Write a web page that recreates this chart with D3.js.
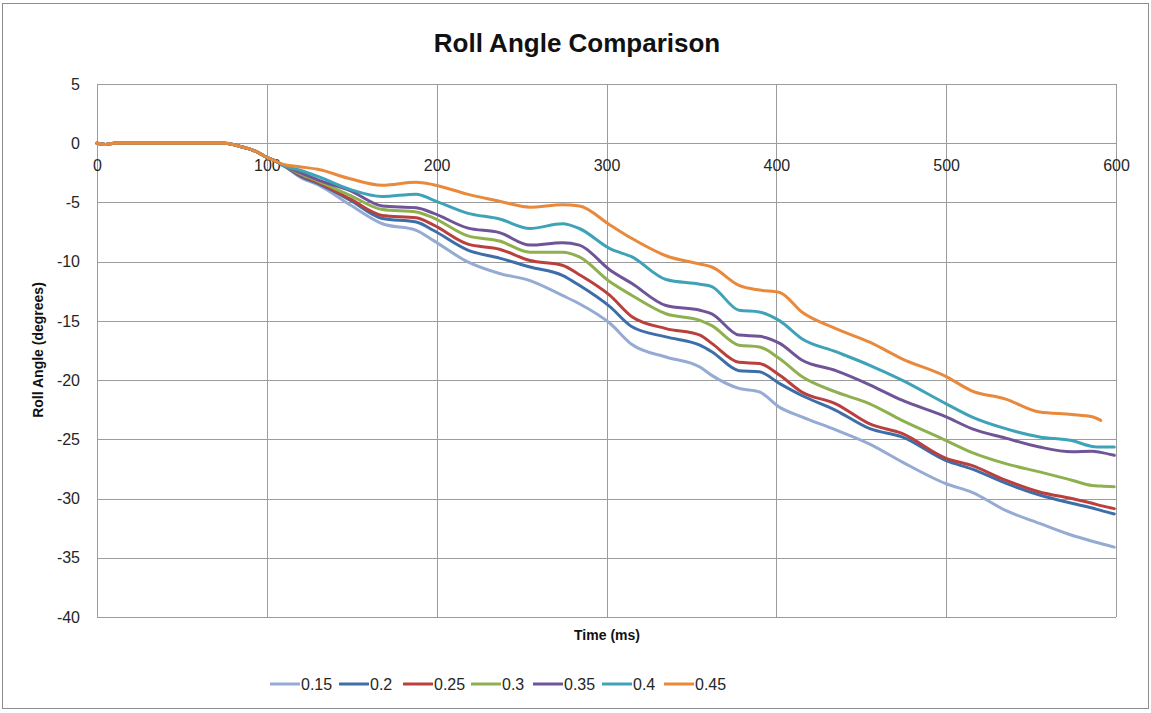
<!DOCTYPE html>
<html><head><meta charset="utf-8">
<script src="https://cdn.jsdelivr.net/npm/d3@7"></script>
<style>body{margin:0;background:#fff}</style>
</head><body><svg id="c" width="1151" height="713"></svg>
<script>
const title = "Roll Angle Comparison";
const xTitle = "Time (ms)";
const yTitle = "Roll Angle (degrees)";
const xTicks = [0,100,200,300,400,500,600];
const yTicks = [5,0,-5,-10,-15,-20,-25,-30,-35,-40];
const seriesNames = ["0.15","0.2","0.25","0.3","0.35","0.4","0.45"];
const colors = ["#95abd3","#3d6eaa","#b9403d","#8fb04e","#6f5497","#3ea2b8","#e8893b"];
const times = [0,5,10,75,80,85,90,95,100,105,110,120,130,149,168,188,198,218,237,255,274,284,302,315,335,355,362,378,390,402,415,435,455,474,500,515,535,555,574,586,591,599];
const head = [0,-0.1,0,0,-0.1,-0.3,-0.5,-0.8,-1.2,-1.5];
const s015 = head.concat([-1.9,-2.9,-3.5,-5.2,-6.8,-7.35,-8.2,-10.0,-11.0,-11.6,-12.85,-13.55,-15.2,-17.0,-18.05,-18.9,-19.6,-20.7,-21.0,-22.3,-23.1,-24.2,-25.4,-26.9,-28.75,-29.45,-31.0,-32.1,-33.1,-33.6,-33.8,-34.1]);
const s020 = head.concat([-1.9,-2.8,-3.4,-4.8,-6.35,-6.65,-7.35,-9.0,-9.7,-10.45,-11.15,-12.0,-13.8,-15.5,-16.35,-17.05,-17.6,-19.2,-19.3,-20.3,-21.3,-22.55,-24.1,-24.8,-26.8,-27.5,-28.7,-29.7,-30.4,-30.8,-31.0,-31.3]);
const s025 = head.concat([-1.9,-2.7,-3.3,-4.7,-6.1,-6.3,-6.9,-8.5,-8.95,-9.9,-10.3,-11.1,-12.85,-14.65,-15.65,-16.2,-16.9,-18.5,-18.6,-19.6,-21.0,-22.0,-23.7,-24.5,-26.6,-27.2,-28.45,-29.45,-30.0,-30.4,-30.6,-30.85]);
const s030 = head.concat([-1.9,-2.6,-3.2,-4.4,-5.6,-5.8,-6.3,-7.8,-8.25,-9.2,-9.2,-9.6,-11.7,-12.85,-14.4,-14.95,-15.4,-17.05,-17.2,-18.2,-19.7,-21.0,-22.0,-23.4,-25.1,-26.1,-27.05,-27.75,-28.45,-28.9,-28.95,-29.0]);
const s035 = head.concat([-1.9,-2.5,-3.1,-4.0,-5.3,-5.45,-5.9,-7.15,-7.55,-8.6,-8.4,-8.6,-10.7,-11.85,-13.7,-14.1,-14.4,-16.2,-16.3,-16.9,-18.3,-19.2,-20.4,-21.7,-23.1,-24.1,-24.9,-25.65,-26.05,-26.0,-26.1,-26.35]);
const s040 = head.concat([-1.9,-2.3,-2.8,-3.9,-4.5,-4.3,-4.8,-5.9,-6.4,-7.2,-6.8,-7.2,-8.9,-9.6,-11.5,-11.9,-12.1,-14.1,-14.25,-15.0,-16.5,-17.6,-18.75,-20.0,-22.0,-23.1,-24.1,-24.8,-25.1,-25.6,-25.65,-25.65]);
const s045 = head.concat([-1.8,-2.0,-2.2,-3.0,-3.55,-3.3,-3.5,-4.3,-4.9,-5.4,-5.2,-5.3,-6.9,-8.05,-9.5,-10.2,-10.45,-12.0,-12.4,-12.6,-14.25,-15.65,-16.8,-18.2,-19.7,-20.9,-21.6,-22.7,-22.9,-23.1,-23.4,null]);
const seriesValues = [s015,s020,s025,s030,s035,s040,s045];

const svg = d3.select("#c");
const font = "'Liberation Sans', Arial, sans-serif";
svg.append("rect").attr("x",2.5).attr("y",3.5).attr("width",1146).attr("height",705)
  .attr("fill","#fff").attr("stroke","#8c8c8c").attr("stroke-width",1);

const x = d3.scaleLinear().domain([0,600]).range([97,1116]);
const y = d3.scaleLinear().domain([-40,5]).range([617,84]);

const grid = svg.append("g");
yTicks.forEach(t => grid.append("line").attr("x1",x(0)).attr("x2",x(600))
  .attr("y1",Math.round(y(t))+0.5).attr("y2",Math.round(y(t))+0.5).attr("stroke","#9c9c9c").attr("stroke-width",1));
xTicks.forEach(t => grid.append("line").attr("y1",y(5)).attr("y2",y(-40))
  .attr("x1",Math.round(x(t))+0.5).attr("x2",Math.round(x(t))+0.5).attr("stroke","#9c9c9c").attr("stroke-width",1));

const fmt = d => String(d);
// y axis labels
const yAxis = d3.axisLeft(y).tickValues(yTicks).tickSize(0).tickPadding(0).tickFormat(fmt);
const gy = svg.append("g").attr("transform","translate(80,0)").call(yAxis);
gy.select(".domain").remove();
gy.selectAll("text").attr("font-family",font).attr("font-size",16).attr("fill","#262626");

// x axis labels at y=0
const xAxis = d3.axisBottom(x).tickValues(xTicks).tickSize(0).tickPadding(0).tickFormat(fmt);
const gx = svg.append("g").attr("transform",`translate(0,${y(0)+16})`).call(xAxis);
gx.select(".domain").remove();
gx.selectAll("text").attr("font-family",font).attr("font-size",16).attr("fill","#262626");

// lines
const line = d3.line().defined(d => d[1] !== null).x(d => x(d[0])).y(d => y(d[1])).curve(d3.curveMonotoneX);
seriesValues.forEach((vals,i) => {
  svg.append("path").datum(times.map((t,j)=>[t,vals[j]]))
    .attr("d",line).attr("fill","none").attr("stroke",colors[i]).attr("stroke-width",3)
    .attr("stroke-linejoin","round").attr("stroke-linecap","round");
});

svg.append("text").attr("x",577).attr("y",52).attr("text-anchor","middle")
  .attr("font-family",font).attr("font-weight","bold").attr("font-size",26).attr("fill","#111").text(title);
svg.append("text").attr("x",607).attr("y",640).attr("text-anchor","middle")
  .attr("font-family",font).attr("font-weight","bold").attr("font-size",14).attr("fill","#111").text(xTitle);
svg.append("text").attr("transform","translate(43,350) rotate(-90)").attr("text-anchor","middle")
  .attr("font-family",font).attr("font-weight","bold").attr("font-size",14).attr("fill","#111").text(yTitle);

// legend
const legX = [270,339,403,471,533,602,664];
const lg = svg.append("g");
seriesNames.forEach((n,i) => {
  lg.append("line").attr("x1",legX[i]).attr("x2",legX[i]+30).attr("y1",684).attr("y2",684)
    .attr("stroke",colors[i]).attr("stroke-width",3);
  lg.append("text").attr("x",legX[i]+31).attr("y",690).attr("font-family",font).attr("font-size",16)
    .attr("fill","#262626").text(n);
});
</script></body></html>
